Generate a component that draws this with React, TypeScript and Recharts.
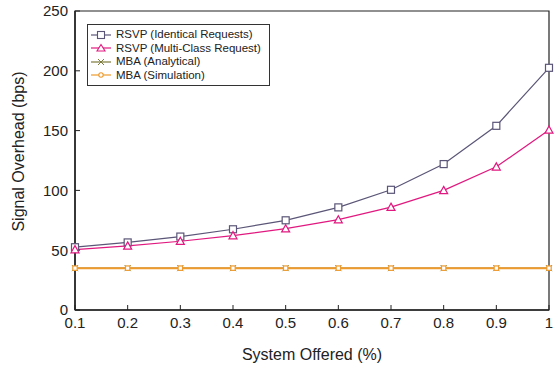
import React from "react";
import {
  LineChart,
  Line,
  XAxis,
  YAxis,
  ReferenceArea,
} from "recharts";

const offered = [0.1, 0.2, 0.3, 0.4, 0.5, 0.6, 0.7, 0.8, 0.9, 1];
const rsvpIdentical = [52.5, 56.5, 61.4, 67.5, 75, 85.8, 100.5, 122, 154, 202.5];
const rsvpMultiClass = [50.5, 53.6, 57.5, 62.2, 68, 75.5, 86, 100, 119.7, 150.5];
const mbaAnalytical = [35, 35, 35, 35, 35, 35, 35, 35, 35, 35];
const mbaSimulation = [35, 35, 35, 35, 35, 35, 35, 35, 35, 35];

const yTicks = [0, 50, 100, 150, 200, 250];

const data = offered.map((x, i) => ({
  x,
  identical: rsvpIdentical[i],
  multi: rsvpMultiClass[i],
  analytical: mbaAnalytical[i],
  simulation: mbaSimulation[i],
}));

const FONT = "'Liberation Sans', Arial, Helvetica, sans-serif";

const C_IDENT = "#5b5577";
const C_MULTI = "#e0187f";
const C_ANAL = "#7d7a3c";
const C_SIM = "#ee9a2c";

// marker shapes
const Square = (color: string, s = 3.5) => (props: any) => {
  const { cx, cy, index } = props;
  if (cx == null || cy == null) return null;
  return (
    <rect key={index} x={cx - s} y={cy - s} width={s * 2} height={s * 2}
      fill="#fff" stroke={color} strokeWidth={1.2} />
  );
};

const Triangle = (color: string, s = 4) => (props: any) => {
  const { cx, cy, index } = props;
  if (cx == null || cy == null) return null;
  return (
    <path key={index}
      d={`M${cx},${cy - s} L${cx + s},${cy + s * 0.8} L${cx - s},${cy + s * 0.8} Z`}
      fill="#fff" stroke={color} strokeWidth={1.2} />
  );
};

const Cross = (color: string, s = 3) => (props: any) => {
  const { cx, cy, index } = props;
  if (cx == null || cy == null) return null;
  return (
    <path key={index}
      d={`M${cx - s},${cy - s} L${cx + s},${cy + s} M${cx - s},${cy + s} L${cx + s},${cy - s}`}
      stroke={color} strokeWidth={1} fill="none" />
  );
};

const SmallBox = (color: string, s = 2.2) => (props: any) => {
  const { cx, cy, index } = props;
  if (cx == null || cy == null) return null;
  return (
    <rect key={index} x={cx - s} y={cy - s} width={s * 2} height={s * 2}
      fill="#fff" stroke={color} strokeWidth={1.2} />
  );
};

const legendItems = [
  { name: "RSVP (Identical Requests)", color: C_IDENT, mark: "square" },
  { name: "RSVP (Multi-Class Request)", color: C_MULTI, mark: "triangle" },
  { name: "MBA (Analytical)", color: C_ANAL, mark: "cross" },
  { name: "MBA (Simulation)", color: C_SIM, mark: "circle" },
];

const LegendIcon = ({ color, mark }: { color: string; mark: string }) => (
  <svg width={20} height={10} style={{ marginRight: 5, flex: "none" }}>
    <line x1={0} y1={5} x2={20} y2={5} stroke={color} strokeWidth={1.2} />
    {mark === "square" && (
      <rect x={6.5} y={1.5} width={7} height={7} fill="#fff" stroke={color} strokeWidth={1.1} />
    )}
    {mark === "triangle" && (
      <path d="M10,1.5 L14,8 L6,8 Z" fill="#fff" stroke={color} strokeWidth={1.1} />
    )}
    {mark === "cross" && (
      <path d="M7,2 L13,8 M7,8 L13,2" stroke={color} strokeWidth={1} />
    )}
    {mark === "circle" && (
      <circle cx={10} cy={5} r={2.2} fill="#fff" stroke={color} strokeWidth={1.1} />
    )}
  </svg>
);

const ChartLegend = () => (
  <div
    style={{
      position: "absolute",
      left: 87,
      top: 24,
      border: "1px solid #333",
      padding: "3px 8px 3px 3px",
      background: "#fff",
      fontFamily: FONT,
      fontSize: 11.5,
      color: "#222",
      lineHeight: "13.5px",
    }}
  >
    {legendItems.map((it) => (
      <div key={it.name} style={{ display: "flex", alignItems: "center" }}>
        <LegendIcon color={it.color} mark={it.mark} />
        <span>{it.name}</span>
      </div>
    ))}
  </div>
);

const YTitle = (props: any) => {
  const { viewBox } = props;
  const x = 18;
  const y = viewBox.y + viewBox.height / 2 - 9;
  return (
    <text x={x} y={y} transform={`rotate(-90 ${x} ${y})`} textAnchor="middle"
      dominantBaseline="central" fontFamily={FONT} fontSize={16} fill="#222">
      Signal Overhead (bps)
    </text>
  );
};

export default function App() {
  return (
    <div style={{ position: "absolute", left: 0, top: 0, width: 554, height: 365, background: "#fff" }}>
      <LineChart width={554} height={365} data={data}
        margin={{ top: 11, right: 5, left: 0, bottom: 0 }}>
        <ReferenceArea x1={0.1} x2={1} y1={0} y2={250} fill="none"
          stroke="#222" strokeWidth={1.2} ifOverflow="visible" />
        <XAxis
          dataKey="x"
          type="number"
          domain={[0.1, 1]}
          ticks={offered}
          tickFormatter={(v: number) => String(v)}
          height={55}
          tickSize={-5}
          tickMargin={12}
          axisLine={{ stroke: "#222", strokeWidth: 1.5 }}
          tickLine={{ stroke: "#222" }}
          tick={{ fontFamily: FONT, fontSize: 15, fill: "#222" }}
          label={{ value: "System Offered (%)", position: "insideBottom", offset: 5,
            style: { fontFamily: FONT, fontSize: 16, fill: "#222" } }}
        />
        <YAxis
          type="number"
          domain={[0, 250]}
          ticks={yTicks}
          width={75}
          tickSize={-5}
          tickMargin={12}
          axisLine={{ stroke: "#222", strokeWidth: 1.5 }}
          tickLine={{ stroke: "#222" }}
          tick={{ fontFamily: FONT, fontSize: 15, fill: "#222" }}
          label={<YTitle />}
        />
        <Line dataKey="identical" name="RSVP (Identical Requests)" stroke={C_IDENT}
          strokeWidth={1.2} dot={Square(C_IDENT)} isAnimationActive={false} />
        <Line dataKey="multi" name="RSVP (Multi-Class Request)" stroke={C_MULTI}
          strokeWidth={1.2} dot={Triangle(C_MULTI)} isAnimationActive={false} />
        <Line dataKey="analytical" name="MBA (Analytical)" stroke={C_ANAL}
          strokeWidth={1.2} dot={Cross(C_ANAL)} isAnimationActive={false} />
        <Line dataKey="simulation" name="MBA (Simulation)" stroke={C_SIM}
          strokeWidth={2} dot={SmallBox(C_SIM)} isAnimationActive={false} />
      </LineChart>
      <ChartLegend />
    </div>
  );
}
